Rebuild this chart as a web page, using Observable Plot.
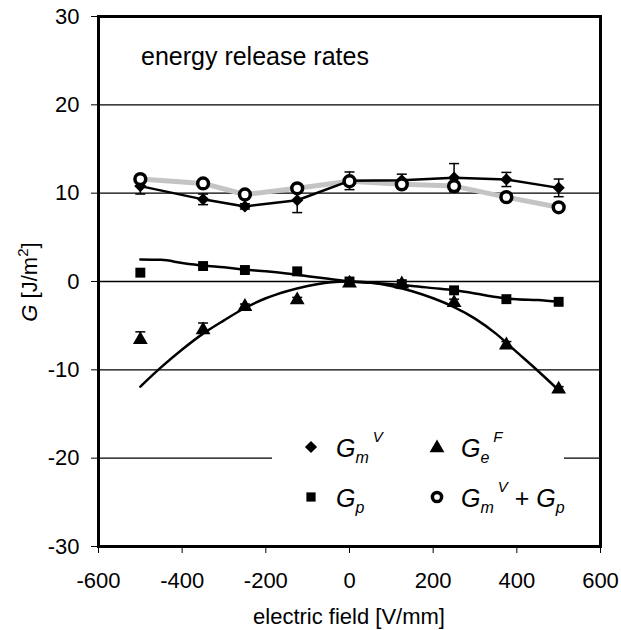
<!DOCTYPE html>
<html><head><meta charset="utf-8">
<script src="https://cdn.jsdelivr.net/npm/d3@7"></script>
<script src="https://cdn.jsdelivr.net/npm/@observablehq/plot@0.6"></script>
<style>
body{margin:0;background:#fff;}
#chart{position:relative;width:621px;height:630px;}
svg text{font-family:"Liberation Sans",Arial,sans-serif;}
</style>
</head><body><div id="chart"></div>
<script>
// electric field positions of the measurements [V/mm]
const field = [-500, -350, -250, -125, 0, 125, 250, 375, 500];
// G_m^V (diamonds) and its error
const gmV = [10.8, 9.3, 8.5, 9.2, 11.4, 11.45, 11.75, 11.55, 10.6];
const gmVErr = [0.9, 0.6, 0.3, 1.4, 1.0, 0.7, 1.6, 0.8, 1.0];
// G_p (squares)
const gp = [1.0, 1.75, 1.3, 1.15, 0.0, -0.3, -1.0, -2.0, -2.3];
// G_e^F (triangles) and its (upper) error
const geF = [-6.6, -5.5, -2.85, -2.1, -0.2, -0.3, -2.4, -7.2, -12.2];
const geFErr = [0.9, 0.8, 0.3, 0.3, 0.3, 0.3, 0.4, 0.4, 0.3];
// G_m^V + G_p (open circles)
const gSum = [11.6, 11.1, 9.85, 10.55, 11.35, 11.0, 10.8, 9.55, 8.4];
// fitted curves
const fitField = [-500,-450,-400,-350,-300,-250,-200,-150,-100,-50,0,50,100,150,200,250,300,350,400,450,500];
const gpFit = [2.5,2.45,2.1,1.8,1.6,1.35,1.15,0.9,0.6,0.3,0,-0.15,-0.3,-0.5,-0.75,-1.0,-1.35,-1.75,-2.0,-2.1,-2.3];
const geFFit = [-11.9,-9.7,-7.7,-5.9,-4.4,-3.0,-1.9,-1.1,-0.5,-0.1,0,-0.1,-0.5,-1.1,-1.9,-2.9,-4.2,-5.9,-8.0,-10.1,-12.3];
// axes
const xTicks = [-600, -400, -200, 0, 200, 400, 600];
const yTicks = [-30, -20, -10, 0, 10, 20, 30];
const gridY = [-20, -10, 0, 10, 20];

const pts = field.map((x, i) => ({x, gmV: gmV[i], gmVErr: gmVErr[i], gp: gp[i], geF: geF[i], geFErr: geFErr[i], gSum: gSum[i]}));
const fit = fitField.map((x, i) => ({x, gp: gpFit[i], ge: geFFit[i]}));

const cap = {draw(ctx) { ctx.moveTo(-5, 0); ctx.lineTo(5, 0); }};

const svg = Plot.plot({
  width: 621, height: 630,
  marginLeft: 98, marginRight: 21, marginTop: 16, marginBottom: 84,
  style: {fontFamily: "'Liberation Sans', Arial, sans-serif", fontSize: "22px", color: "black", background: "white"},
  x: {domain: [-600, 600]},
  y: {domain: [-30, 30]},
  marks: [
    Plot.ruleY(gridY, {stroke: "black", strokeWidth: 1.4}),
    Plot.line(pts, {x: "x", y: "gSum", stroke: "#c4c4c4", strokeWidth: 5}),
    Plot.ruleX(pts, {x: "x", y1: d => d.gmV - d.gmVErr, y2: d => d.gmV + d.gmVErr, stroke: "black", strokeWidth: 1.5}),
    Plot.dot(pts, {x: "x", y: d => d.gmV - d.gmVErr, symbol: cap, stroke: "black", strokeWidth: 1.5}),
    Plot.dot(pts, {x: "x", y: d => d.gmV + d.gmVErr, symbol: cap, stroke: "black", strokeWidth: 1.5}),
    Plot.ruleX(pts, {x: "x", y1: "geF", y2: d => d.geF + d.geFErr, stroke: "black", strokeWidth: 1.5}),
    Plot.dot(pts, {x: "x", y: d => d.geF + d.geFErr, symbol: cap, stroke: "black", strokeWidth: 1.5}),
    Plot.line(fit, {x: "x", y: "gp", stroke: "black", strokeWidth: 2.5, curve: "monotone-x"}),
    Plot.line(fit, {x: "x", y: "ge", stroke: "black", strokeWidth: 2.5, curve: "monotone-x"}),
    Plot.line(pts, {x: "x", y: "gmV", stroke: "black", strokeWidth: 2.5}),
    Plot.dot(pts, {x: "x", y: "gp", symbol: "square", r: 5.6, fill: "black"}),
    Plot.dot(pts, {x: "x", y: "geF", symbol: "triangle", r: 5.5, fill: "black"}),
    Plot.dot(pts, {x: "x", y: "gmV", symbol: "diamond2", r: 5.5, fill: "black"}),
    Plot.dot(pts, {x: "x", y: "gSum", symbol: "circle", r: 5.4, fill: "white", stroke: "black", strokeWidth: 3.5}),
    Plot.frame({stroke: "black", strokeWidth: 3}),
    Plot.axisX({ticks: xTicks, tickFormat: d => String(d), tickSize: 7, tickPadding: 19, label: null, fontSize: 22}),
    Plot.axisY({ticks: yTicks, tickFormat: d => String(d), tickSize: 7, tickPadding: 12, label: null, fontSize: 22})
  ]
});
document.getElementById("chart").appendChild(svg);

const s = d3.select(svg);
// title inside the plot
s.append("text").attr("x", 141).attr("y", 65).attr("text-anchor", "start").attr("font-size", 25).attr("fill", "black").text("energy release rates");
// x label
s.append("text").attr("x", 349).attr("y", 624).attr("text-anchor", "middle").attr("font-size", 22).attr("fill", "black").text("electric field [V/mm]");
// y label
const yl = s.append("text").attr("transform", "translate(37,282) rotate(-90)").attr("text-anchor", "middle").attr("font-size", 22).attr("fill", "black");
yl.append("tspan").attr("font-style", "italic").text("G");
yl.append("tspan").text(" [J/m");
yl.append("tspan").attr("font-size", 15).attr("dy", -9).text("2");
yl.append("tspan").attr("dy", 9).text("]");

// legend
const lg = s.append("g");
lg.append("rect").attr("x", 272).attr("y", 422).attr("width", 292).attr("height", 100).attr("fill", "white");
const sym = (type, r, x, y, fill, stroke) => {
  lg.append("path").attr("transform", `translate(${x},${y})`)
    .attr("d", d3.symbol(type, r * r * Math.PI)())
    .attr("fill", fill).attr("stroke", stroke || "none").attr("stroke-width", stroke ? 3.5 : 0);
};
sym(d3.symbolDiamond2, 5.5, 311, 447, "black");
sym(d3.symbolTriangle, 5.5, 437, 448, "black");
sym(d3.symbolSquare, 5.2, 311, 497, "black");
sym(d3.symbolCircle, 4.6, 437, 497, "white", "black");

const entry = (x, y, parts) => {
  const t = lg.append("text").attr("x", x).attr("y", y).attr("text-anchor", "start").attr("fill", "black");
  for (const p of parts) {
    const ts = t.append("tspan").text(p.t).attr("font-size", p.size || 25);
    if (p.it) ts.attr("font-style", "italic");
    if (p.dy) ts.attr("dy", p.dy);
    if (p.dx) ts.attr("dx", p.dx);
  }
};
entry(336, 457, [{t: "G", it: 1}, {t: "m", it: 1, size: 16, dy: 6}, {t: "V", it: 1, size: 15, dx: 4, dy: -21}]);
entry(461, 457, [{t: "G", it: 1}, {t: "e", it: 1, size: 16, dy: 6}, {t: "F", it: 1, size: 15, dx: 4, dy: -21}]);
entry(336, 507, [{t: "G", it: 1}, {t: "p", it: 1, size: 16, dy: 6}]);
entry(461, 507, [{t: "G", it: 1}, {t: "m", it: 1, size: 16, dy: 6}, {t: "V", it: 1, size: 15, dx: 4, dy: -21},
  {t: "\u00a0+\u00a0", dy: 15}, {t: "G", it: 1}, {t: "p", it: 1, size: 16, dy: 6}]);
</script>
</body></html>
